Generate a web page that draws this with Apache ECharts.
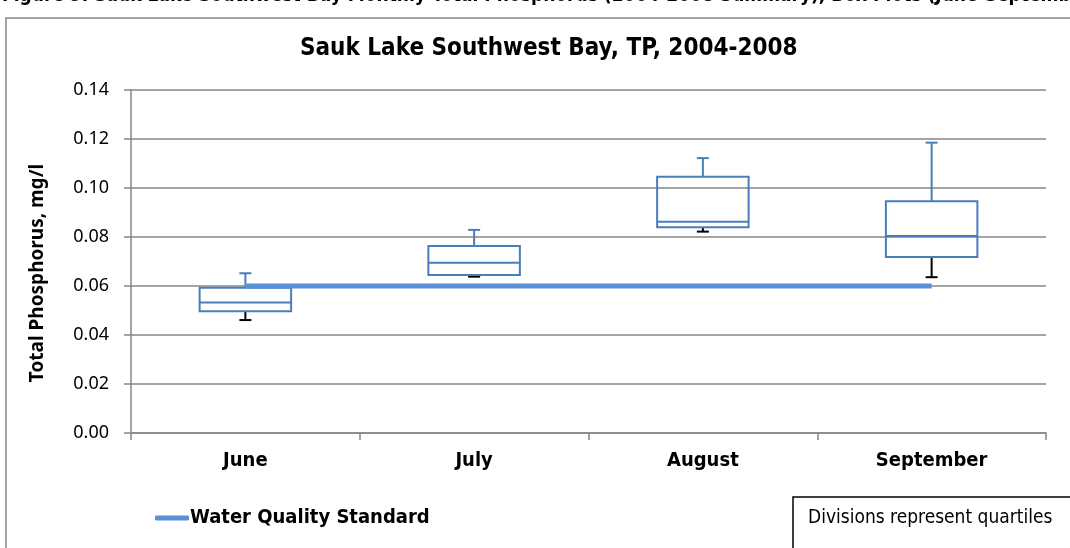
<!DOCTYPE html>
<html>
<head>
<meta charset="utf-8">
<script src="https://cdn.jsdelivr.net/npm/echarts@6/dist/echarts.min.js"></script>
<style>
html,body{margin:0;padding:0;background:#fff}
#main{width:1070px;height:548px}
</style>
</head>
<body>
<div id="main"></div>
<script>
/*数据*/
var months = ['June', 'July', 'August', 'September'];
var whiskerLow = [0.0461, 0.0638, 0.0822, 0.0636];
var quartile1 = [0.0497, 0.0645, 0.0840, 0.0718];
var medians = [0.0533, 0.0695, 0.0862, 0.0804];
var quartile3 = [0.0593, 0.0763, 0.1046, 0.0946];
var whiskerHigh = [0.0652, 0.0829, 0.1122, 0.1185];
var standard = [0.06, 0.06, 0.06, 0.06];

var narrow = "'DejaVu Sans Condensed',sans-serif";
var boxColor = '#4a7ebb';
var lineColor = '#5990d8';

var boxData = [];
for (var i = 0; i < months.length; i++) {
    boxData.push([i, whiskerLow[i], quartile1[i], medians[i], quartile3[i], whiskerHigh[i]]);
}

/*画箱子*/
function renderBox(params, api) {
    var i = api.value(0);
    var x = api.coord([i, 0])[0];
    var bw = api.size([1, 0])[0] * 0.4;
    var yLo = api.coord([i, api.value(1)])[1];
    var yQ1 = api.coord([i, api.value(2)])[1];
    var yMed = api.coord([i, api.value(3)])[1];
    var yQ3 = api.coord([i, api.value(4)])[1];
    var yHi = api.coord([i, api.value(5)])[1];
    var cap = 6;
    return {
        type: 'group',
        children: [
            {type: 'line', shape: {x1: x, y1: yQ3, x2: x, y2: yHi}, style: {stroke: boxColor, lineWidth: 2}},
            {type: 'line', shape: {x1: x - cap, y1: yHi, x2: x + cap, y2: yHi}, style: {stroke: boxColor, lineWidth: 2}},
            {type: 'line', shape: {x1: x, y1: yQ1, x2: x, y2: yLo}, style: {stroke: '#000', lineWidth: 2}},
            {type: 'line', shape: {x1: x - cap, y1: yLo, x2: x + cap, y2: yLo}, style: {stroke: '#000', lineWidth: 2}},
            {type: 'rect', shape: {x: x - bw / 2, y: yQ3, width: bw, height: yQ1 - yQ3}, style: {fill: 'none', stroke: boxColor, lineWidth: 2}},
            {type: 'line', shape: {x1: x - bw / 2, y1: yMed, x2: x + bw / 2, y2: yMed}, style: {stroke: boxColor, lineWidth: 2}}
        ]
    };
}

var myChart = echarts.init(document.getElementById('main'));
var option = {
    animation: false,
    backgroundColor: '#fff',
    title: {
        text: 'Sauk Lake Southwest Bay, TP, 2004-2008',
        left: 295,
        top: 32,
        textStyle: {fontFamily: narrow, fontSize: 24, fontWeight: 'bold', color: '#000'}
    },
    grid: {left: 131, right: 24, top: 90, bottom: 115},
    legend: {
        left: 150,
        top: 503,
        icon: 'roundRect',
        itemWidth: 34,
        itemHeight: 5,
        data: ['Water Quality Standard'],
        textStyle: {fontFamily: narrow, fontSize: 20, fontWeight: 'bold', color: '#000', padding: [0, 0, 0, -4]}
    },
    xAxis: {
        type: 'category',
        data: months,
        boundaryGap: true,
        axisLine: {lineStyle: {color: '#868686', width: 1.5}},
        axisTick: {show: true, length: 7, lineStyle: {color: '#868686', width: 1.5}},
        axisLabel: {margin: 18, fontFamily: narrow, fontSize: 20, fontWeight: 'bold', color: '#000'}
    },
    yAxis: {
        type: 'value',
        min: 0,
        max: 0.14,
        interval: 0.02,
        axisLine: {show: true, lineStyle: {color: '#868686', width: 1.5}},
        axisTick: {show: true, length: 7, lineStyle: {color: '#868686', width: 1.5}},
        splitLine: {lineStyle: {color: '#868686', width: 1.5}},
        axisLabel: {
            margin: 22,
            fontFamily: "'Noto Sans',sans-serif",
            fontSize: 18,
            color: '#000',
            formatter: function (v) { return v.toFixed(2); }
        }
    },
    series: [
        {
            name: 'Boxes',
            type: 'custom',
            renderItem: renderBox,
            encode: {x: 0, y: [1, 2, 3, 4, 5]},
            data: boxData,
            z: 2
        },
        {
            name: 'Water Quality Standard',
            type: 'line',
            data: standard,
            symbol: 'none',
            lineStyle: {color: lineColor, width: 5},
            itemStyle: {color: lineColor},
            z: 3
        }
    ],
    graphic: [
        {type: 'rect', shape: {x: 6, y: 18, width: 1100, height: 600}, style: {fill: 'none', stroke: '#868686', lineWidth: 1.5}, z: -1},
        {type: 'text', x: 2, y: 6, style: {text: 'Figure 9. Sauk Lake Southwest Bay Monthly Total Phosphorus (2004-2008 Summary), Box Plots (June-September)', font: "bold 19px 'DejaVu Sans Condensed'", fill: '#000', verticalAlign: 'bottom'}},
        {type: 'text', x: 38, y: 273, rotation: Math.PI / 2, style: {text: 'Total Phosphorus, mg/l', font: "bold 19px 'Noto Sans'", fill: '#000', align: 'center', verticalAlign: 'middle'}},
        {type: 'rect', shape: {x: 793, y: 497, width: 300, height: 80}, style: {fill: '#fff', stroke: '#000', lineWidth: 1.5}},
        {type: 'text', x: 808, y: 518, style: {text: 'Divisions represent quartiles', font: "19px 'DejaVu Sans Condensed'", fill: '#000', verticalAlign: 'middle'}}
    ]
};
myChart.setOption(option);
</script>
</body>
</html>
